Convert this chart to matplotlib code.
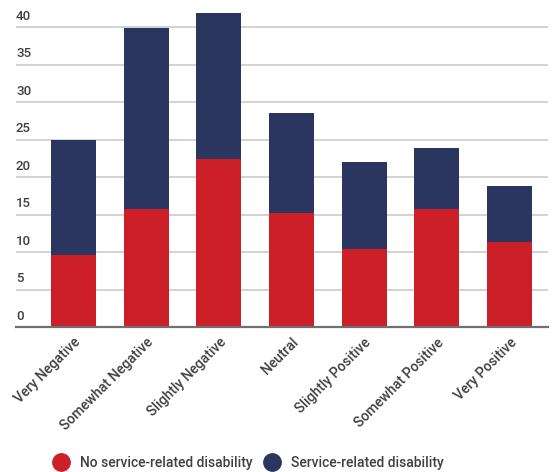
import matplotlib.pyplot as plt
import matplotlib.transforms as mtransforms
from matplotlib.lines import Line2D

plt.rcParams["font.family"] = ["Roboto", "DejaVu Sans"]

# data
categories = ["Very Negative", "Somewhat Negative", "Slightly Negative", "Neutral",
              "Slightly Positive", "Somewhat Positive", "Very Positive"]
no_service = [9.6, 15.7, 22.4, 15.2, 10.4, 15.7, 11.4]
service = [15.3, 24.2, 19.5, 13.4, 11.6, 8.2, 7.4]
y_ticks = [0, 5, 10, 15, 20, 25, 30, 35, 40]
series_names = ["No service-related disability", "Service-related disability"]

RED = "#cc1f28"
NAVY = "#2b3660"
TEXT = "#404040"

fig = plt.figure(figsize=(5.55, 4.72), dpi=100)
ax = fig.add_axes([0.0288, 0.3072, 0.9586, 0.6753])

x = list(range(len(categories)))
ax.bar(x, no_service, width=0.62, color=RED, zorder=3)
ax.bar(x, service, width=0.62, bottom=no_service, color=NAVY, zorder=3)

ax.set_xlim(-0.79, 6.53)
ax.set_ylim(0, 42.5)

# gridlines with labels sitting above them, left aligned
ax.set_yticks(y_ticks)
ax.set_yticklabels([])
ax.tick_params(axis="y", length=0)
ax.yaxis.grid(True, color="#cfcfcf", linewidth=1.3, zorder=0)
ax.set_axisbelow(True)
trans = mtransforms.blended_transform_factory(ax.transAxes, ax.transData)
for v in y_ticks:
    ax.annotate(str(v), xy=(0, v), xycoords=trans, xytext=(0, 3),
                textcoords="offset points", ha="left", va="bottom",
                fontsize=9.5, color=TEXT, fontweight="medium")

for side in ["top", "right", "left"]:
    ax.spines[side].set_visible(False)
ax.spines["bottom"].set_color("#707070")
ax.spines["bottom"].set_linewidth(1.6)
ax.spines["bottom"].set_zorder(4)

ax.set_xticks(x)
ax.set_xticklabels(categories, rotation=45, ha="right", va="top",
                   rotation_mode="anchor", fontsize=10, color=TEXT,
                   fontweight="medium")
ax.tick_params(axis="x", length=0, pad=6)

handles = [
    Line2D([], [], marker="o", linestyle="", markersize=12.5, color=RED),
    Line2D([], [], marker="o", linestyle="", markersize=12.5, color=NAVY),
]
leg = fig.legend(handles, series_names, loc="center", bbox_to_anchor=(0.447, 0.02),
                 ncol=2, frameon=False, handletextpad=0.75,
                 columnspacing=0.8, handlelength=1.2,
                 prop={"size": 10, "weight": "medium"})
for t in leg.get_texts():
    t.set_color(TEXT)

fig.savefig("out.png", dpi=100)
